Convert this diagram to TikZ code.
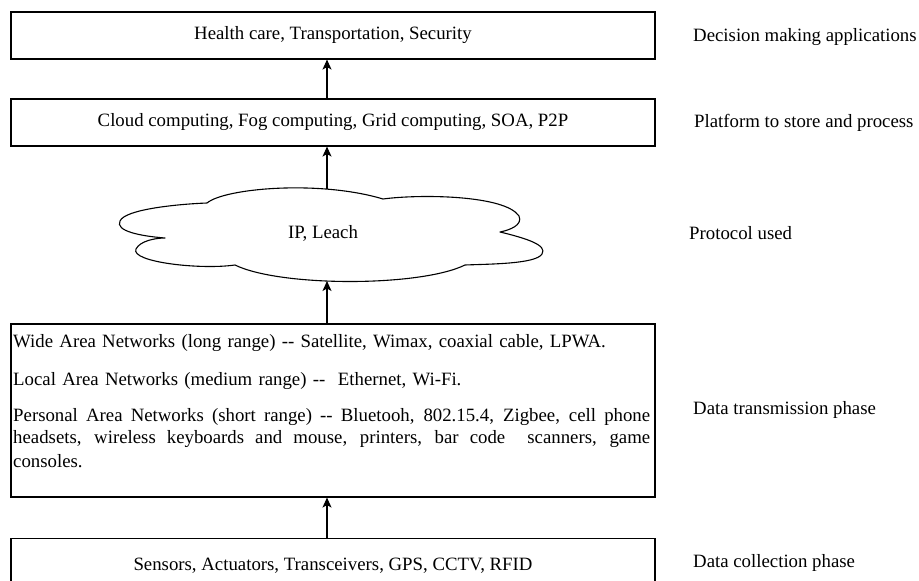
\documentclass[tikz,border=0pt]{standalone}
\usepackage{fontspec}
\setmainfont{Liberation Serif}
\usetikzlibrary{arrows.meta}
\newlength{\wanwidth}
\setlength{\wanwidth}{637pt}
% a line stretched to the full text width, with stretchable interword spaces
\newcommand{\fullline}[1]{{\spaceskip=0pt\xspaceskip=0pt\makebox[\wanwidth][s]{#1}}}
\begin{document}
\begin{tikzpicture}[x=1pt, y=-1pt,
  txt/.style={font=\fontsize{18.8}{22.5}\selectfont},
  box/.style={txt, draw, line width=1.1pt, minimum width=644pt, inner sep=0pt},
  lab/.style={txt, anchor=west, inner sep=0pt},
  arr/.style={line width=1.1pt, -{Stealth[length=10pt, width=9pt, inset=2.5pt]}},
  cloudline/.style={line width=1.1pt, line join=round}]
  \useasboundingbox (0,0) rectangle (919,581);
  \clip (0,0) rectangle (919,581);
  \fill[white] (0,0) rectangle (919,581);

  % vertical axis of the connectors
  \coordinate (axis) at (327,0);

  % layer boxes
  \node[box, minimum height=47pt] (apps) at (333,35.5)
    {Health care, Transportation, Security};
  \node[box, minimum height=47pt] (platform) at (333,122.5)
    {Cloud computing, Fog computing, Grid computing, SOA, P2P};
  \node[box, minimum height=173pt] (wan) at (333,410.5) {};
  \node[txt, anchor=base west, inner sep=0pt, text width=\wanwidth, align=left]
    (wantext) at (13,347.7)
    {Wide Area Networks (long range) -{}- Satellite, Wimax, coaxial cable, LPWA.\\[15.5pt]
     Local Area Networks (medium range) -{}-\ \ Ethernet, Wi-Fi.\\[13.5pt]
     \fullline{Personal Area Networks (short range) -{}- Bluetooh, 802.15.4, Zigbee, cell phone}\\[-0.5pt]
     \fullline{headsets, wireless keyboards and mouse, printers, bar code\ \ scanners, game}\\[1.5pt]
     consoles.};
  \node[box, anchor=north, minimum height=54pt] (sensors) at (333,538)
    {Sensors, Actuators, Transceivers, GPS, CCTV, RFID};

  % protocol cloud
  \draw[cloudline, fill=white]
    (207,203) .. controls (225,188) and (320,180) .. (383,199)
    .. controls (420,194) and (505,195) .. (519,216)
    .. controls (523,225) and (510,230) .. (500,232)
    .. controls (525,238) and (548,245) .. (542,254)
    .. controls (536,264) and (490,264) .. (465,265)
    .. controls (420,287) and (280,287) .. (235,265)
    .. controls (200,270) and (130,262) .. (136,249)
    .. controls (140,241) and (155,238) .. (165,238)
    .. controls (140,236) and (115,231) .. (120,221)
    .. controls (125,209) and (180,204) .. cycle;
  \node[txt, inner sep=0pt] (cloud) at (323,233) {IP, Leach};
  \coordinate (cloudtop) at (327,189);
  \coordinate (cloudbot) at (327,281);

  % connectors
  \draw[arr] (sensors.north -| axis) -- (wan.south -| axis);
  \draw[arr] (wan.north -| axis) -- (cloudbot);
  \draw[arr] (cloudtop) -- (platform.south -| axis);
  \draw[arr] (platform.north -| axis) -- (apps.south -| axis);

  % phase labels
  \node[lab] (l1) at (693,37) {Decision making applications};
  \node[lab] (l2) at (694,123) {Platform to store and process};
  \node[lab] (l3) at (689,233) {Protocol used};
  \node[lab] (l4) at (693,410) {Data transmission phase};
  \node[lab] (l5) at (693,563) {Data collection phase};
\end{tikzpicture}
\end{document}
